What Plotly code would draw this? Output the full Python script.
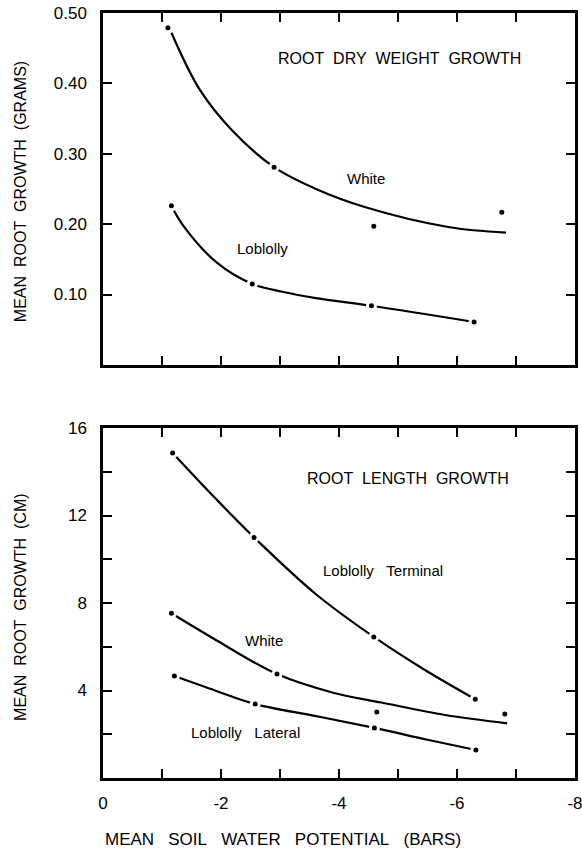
import plotly.graph_objects as go
from plotly.subplots import make_subplots

# measured means, dry weight panel (bars, grams)
dry_white_x = [-1.10, -2.90, -4.59, -6.76]
dry_white_y = [0.479, 0.281, 0.197, 0.217]
dry_lob_x = [-1.16, -2.53, -4.55, -6.29]
dry_lob_y = [0.226, 0.115, 0.084, 0.061]

# fitted curves as drawn, dry weight panel
dry_white_fit_x = [-1.16, -1.64, -2.19, -2.90, -3.61, -4.45, -5.85, -6.83]
dry_white_fit_y = [0.472, 0.391, 0.333, 0.281, 0.250, 0.224, 0.196, 0.188]
dry_lob_fit_x = [-1.16, -1.35, -1.92, -2.53, -3.04, -3.61, -4.55, -6.29]
dry_lob_fit_y = [0.226, 0.199, 0.146, 0.115, 0.104, 0.095, 0.084, 0.061]

# measured means, length panel (bars, cm)
len_term_x = [-1.18, -2.56, -4.59, -6.31]
len_term_y = [14.86, 11.0, 6.45, 3.6]
len_white_x = [-1.16, -2.95, -4.64, -6.81]
len_white_y = [7.53, 4.75, 3.02, 2.92]
len_lat_x = [-1.21, -2.58, -4.60, -6.32]
len_lat_y = [4.66, 3.38, 2.29, 1.28]

# fitted curves as drawn, length panel
len_term_fit_x = [-1.18, -1.90, -2.56, -3.61, -4.59, -5.45, -6.31]
len_term_fit_y = [14.86, 12.8, 11.0, 8.4, 6.45, 4.95, 3.6]
len_white_fit_x = [-1.16, -1.92, -2.95, -3.90, -4.72, -5.80, -6.85]
len_white_fit_y = [7.53, 6.3, 4.75, 3.9, 3.45, 2.88, 2.5]
len_lat_fit_x = [-1.21, -1.92, -2.58, -3.61, -4.60, -5.50, -6.32]
len_lat_fit_y = [4.66, 3.98, 3.38, 2.83, 2.29, 1.75, 1.28]

x_ticks = [0, -1, -2, -3, -4, -5, -6, -7, -8]
x_labels = ['0', '', '-2', '', '-4', '', '-6', '', '-8']
dry_ticks = [0.1, 0.2, 0.3, 0.4, 0.5]
dry_labels = ['0.10', '0.20', '0.30', '0.40', '0.50']
len_ticks = [2, 4, 6, 8, 10, 12, 14, 16]
len_labels = ['', '4', '', '8', '', '12', '', '16']

FONT = 'Liberation Sans'
SP2 = '\u00a0\u00a0'
SP3 = '\u00a0\u00a0\u00a0'

fig = make_subplots(rows=2, cols=1)

curves = [
    (dry_white_fit_x, dry_white_fit_y, 1),
    (dry_lob_fit_x, dry_lob_fit_y, 1),
    (len_term_fit_x, len_term_fit_y, 2),
    (len_white_fit_x, len_white_fit_y, 2),
    (len_lat_fit_x, len_lat_fit_y, 2),
]
for cx, cy, row in curves:
    fig.add_trace(go.Scatter(x=cx, y=cy, mode='lines',
                             line=dict(color='black', width=2.2, shape='spline'),
                             showlegend=False), row=row, col=1)

points = [
    (dry_white_x, dry_white_y, 1),
    (dry_lob_x, dry_lob_y, 1),
    (len_term_x, len_term_y, 2),
    (len_white_x, len_white_y, 2),
    (len_lat_x, len_lat_y, 2),
]
for px, py, row in points:
    fig.add_trace(go.Scatter(x=px, y=py, mode='markers',
                             marker=dict(color='black', size=8,
                                         line=dict(color='white', width=3)),
                             showlegend=False), row=row, col=1)

axis_style = dict(showline=True, linecolor='black', linewidth=2.5, mirror='ticks',
                  ticks='inside', ticklen=9, tickwidth=2, tickcolor='black',
                  showgrid=False, zeroline=False, automargin=False,
                  ticklabeloverflow='allow',
                  tickfont=dict(family=FONT, size=17, color='black'))

fig.update_xaxes(axis_style, range=[0, -8], tickvals=x_ticks, ticktext=x_labels)
fig.update_xaxes(showticklabels=False, row=1, col=1)
fig.update_xaxes(ticklabelstandoff=8, row=2, col=1)
fig.update_yaxes(axis_style, ticklabelstandoff=10)
fig.update_yaxes(range=[0, 0.5], tickvals=dry_ticks, ticktext=dry_labels, row=1, col=1)
fig.update_yaxes(range=[0, 16], tickvals=len_ticks, ticktext=len_labels, row=2, col=1)

fig.update_layout(
    width=582, height=850,
    margin=dict(l=103, r=7, t=13, b=72),
    plot_bgcolor='white', paper_bgcolor='white',
    xaxis=dict(domain=[0, 1]), xaxis2=dict(domain=[0, 1]),
    yaxis=dict(domain=[0.54, 1.0]), yaxis2=dict(domain=[0, 0.4575]),
    font=dict(family=FONT, color='black'),
)

labels = [
    ('ROOT' + SP2 + 'DRY' + SP2 + 'WEIGHT' + SP2 + 'GROWTH', -5.03, 0.435, 'x', 'y', 16),
    ('White', -4.46, 0.265, 'x', 'y', 15),
    ('Loblolly', -2.71, 0.166, 'x', 'y', 15),
    ('ROOT' + SP2 + 'LENGTH' + SP2 + 'GROWTH', -5.17, 13.7, 'x2', 'y2', 16),
    ('Loblolly' + SP3 + 'Terminal', -4.75, 9.5, 'x2', 'y2', 15),
    ('White', -2.73, 6.3, 'x2', 'y2', 15),
    ('Loblolly' + SP3 + 'Lateral', -2.41, 2.1, 'x2', 'y2', 15),
]
for text, ax, ay, xr, yr, size in labels:
    fig.add_annotation(text=text, x=ax, y=ay, xref=xr, yref=yr, showarrow=False,
                       xanchor='center', yanchor='middle',
                       font=dict(family=FONT, size=size, color='black'))

titles = [
    ('MEAN' + SP2 + 'ROOT' + SP2 + 'GROWTH' + SP2 + '(GRAMS)', -0.176, 0.767, -90, 16),
    ('MEAN' + SP2 + 'ROOT' + SP2 + 'GROWTH' + SP2 + '(CM)', -0.176, 0.2235, -90, 16),
    ('MEAN' + SP3 + 'SOIL' + SP3 + 'WATER' + SP3 + 'POTENTIAL' + SP3 + '(BARS)', 0.381, -0.081, 0, 17),
]
for text, ax, ay, angle, size in titles:
    fig.add_annotation(text=text, x=ax, y=ay, xref='paper', yref='paper', textangle=angle,
                       showarrow=False, xanchor='center', yanchor='middle',
                       font=dict(family=FONT, size=size, color='black'))

# the page body has a default 8px margin; drop it so the figure sits at the corner
fig.write_html('out.html', config={'displayModeBar': False},
               post_script="document.body.style.margin='0';")
